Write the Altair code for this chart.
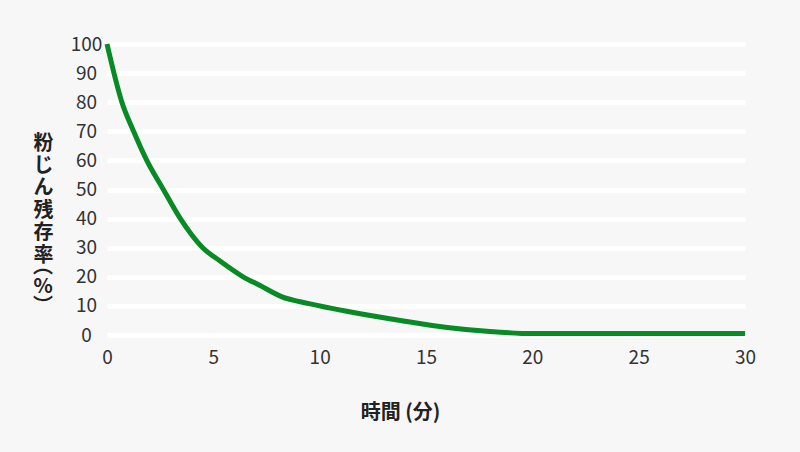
import altair as alt
import pandas as pd

minutes = [0, 0.7, 1.25, 1.87, 2.65, 3.45, 4.5, 5.3, 6.4, 7.2, 8.2, 9.5, 11.4, 13.8, 16, 18, 20, 30]
residual = [100, 80, 70, 60, 50, 40, 30, 25.5, 20, 17, 13.2, 10.8, 8, 5, 2.6, 1.2, 0.5, 0.5]
y_ticks = list(range(0, 101, 10))
x_ticks = [0, 5, 10, 15, 20, 25, 30]
y_title = ["粉", "じ", "ん", "残", "存", "率"]
y_title_unit = ["︵", "%", "︶"]
x_title = "時間 (分)"

df = pd.DataFrame({"t": minutes, "r": residual})
FONT = "Noto Sans CJK JP"

line = alt.Chart(df).mark_line(
    color="#088a24", strokeWidth=5, interpolate="monotone", strokeCap="butt"
).encode(
    x=alt.X("t:Q", scale=alt.Scale(domain=[0, 30], nice=False),
            axis=alt.Axis(values=x_ticks, title=x_title, grid=False, domain=False, ticks=False,
                          labelFlush=False, labelPadding=13, labelFontSize=19,
                          labelColor="#333333", labelFont=FONT,
                          titleFont=FONT, titleFontSize=20, titleFontWeight="bold",
                          titleColor="#222222", titlePadding=35, titleX=293,
                          titleAlign="center")),
    y=alt.Y("r:Q", scale=alt.Scale(domain=[0, 100], nice=False),
            axis=alt.Axis(values=y_ticks, title=y_title, grid=True, gridColor="#ffffff",
                          gridWidth=5, domain=False, ticks=False, labelPadding=21,
                          labelAlign="center", labelFlush=False,
                          labelFontSize=19, labelColor="#333333", labelFont=FONT,
                          titleFont=FONT, titleFontSize=20, titleFontWeight="bold",
                          titleColor="#222222", titleAngle=0, titleLineHeight=22.4,
                          titleAlign="center", titleBaseline="middle",
                          titleX=-64, titleY=99)),
)

unit = alt.Chart(pd.DataFrame({"k": [0]})).mark_text(
    font=FONT, fontSize=20, fontWeight="bold", color="#222222",
    align="center", baseline="middle", lineHeight=20,
).encode(
    x=alt.value(-64), y=alt.value(223), text=alt.value(y_title_unit)
)

chart = alt.layer(line, unit).properties(
    width=638, height=291, background="#f7f7f7",
    padding={"left": 107, "top": 44, "right": 55, "bottom": 117},
    autosize=alt.AutoSizeParams(type="none"),
).configure_view(stroke=None)

chart.save("out.html", embed_options={"renderer": "svg", "actions": False})
